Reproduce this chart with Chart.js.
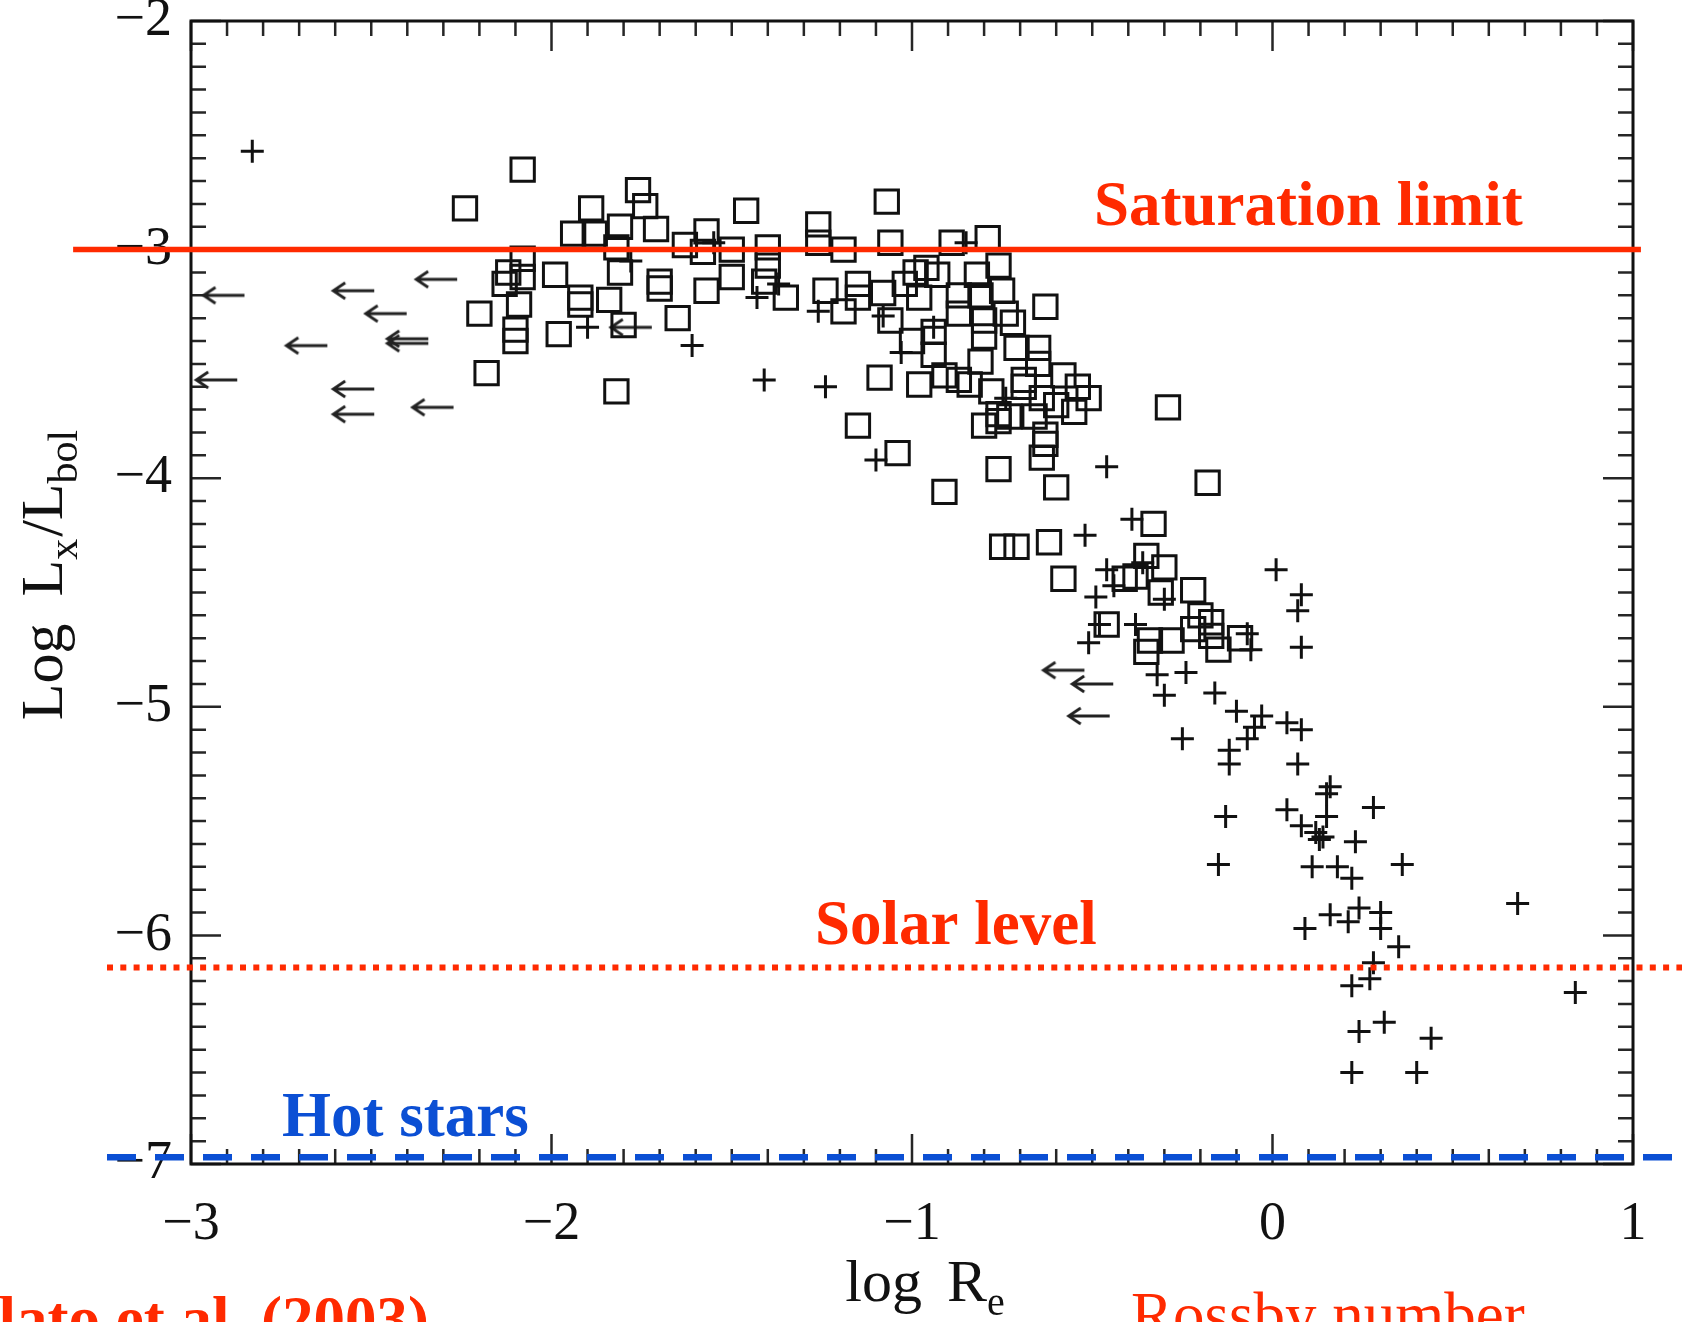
<!DOCTYPE html>
<html lang="en">
<head>
<meta charset="utf-8">
<title>Log Lx/Lbol vs log Ro</title>
<script src="https://cdn.jsdelivr.net/npm/chart.js@4.4.0/dist/chart.umd.min.js"></script>
<style>
  html, body { margin: 0; padding: 0; background: #fff; }
  canvas { display: block; }
</style>
</head>
<body>
<canvas id="rossbyChart" width="1682" height="1322"></canvas>
<script>
// Estrelas com detecção (quadrados): [log Ro, log Lx/Lbol]
const squarePoints = [
    [-2.08,-2.65],[-2.24,-2.82],[-1.89,-2.82],[-1.76,-2.74],[-1.74,-2.81],[-1.94,-2.93],[-1.88,-2.93],
    [-1.81,-2.90],[-1.71,-2.91],[-1.57,-2.92],[-1.82,-2.99],[-1.63,-2.98],[-1.58,-3.01],[-2.08,-3.04],
    [-2.12,-3.10],[-2.08,-3.12],[-2.13,-3.15],[-1.99,-3.11],[-1.81,-3.10],[-1.70,-3.14],[-1.70,-3.17],
    [-1.92,-3.21],[-1.92,-3.24],[-1.84,-3.22],[-2.09,-3.24],[-2.20,-3.28],[-1.80,-3.33],[-1.65,-3.30],
    [-1.98,-3.37],[-2.10,-3.35],[-2.10,-3.40],[-1.57,-3.18],[-1.50,-3.12],[-2.18,-3.54],[-1.82,-3.62],
    [-1.46,-2.83],[-1.07,-2.79],[-1.26,-2.89],[-1.26,-2.97],[-1.19,-3.00],[-1.06,-2.97],[-0.89,-2.97],
    [-0.79,-2.95],[-0.76,-3.07],[-1.50,-3.00],[-1.40,-2.99],[-1.40,-3.07],[-1.41,-3.14],[-1.35,-3.21],
    [-1.24,-3.18],[-1.19,-3.27],[-1.15,-3.15],[-1.15,-3.21],[-1.08,-3.19],[-1.02,-3.15],[-0.99,-3.10],
    [-0.96,-3.08],[-0.98,-3.21],[-0.93,-3.11],[-0.87,-3.20],[-0.82,-3.11],[-0.81,-3.20],[-0.75,-3.18],
    [-0.74,-3.28],[-0.87,-3.28],[-0.80,-3.31],[-0.80,-3.38],[-0.72,-3.32],[-0.94,-3.36],[-1.06,-3.31],
    [-1.00,-3.40],[-0.94,-3.46],[-0.81,-3.49],[-0.71,-3.43],[-1.09,-3.56],[-0.98,-3.59],[-0.91,-3.55],
    [-0.87,-3.57],[-0.84,-3.59],[-0.78,-3.62],[-0.69,-3.60],[-0.76,-3.72],[-0.80,-3.77],[-0.73,-3.73],
    [-0.66,-3.73],[-1.15,-3.77],[-1.04,-3.89],[-0.76,-3.96],[-0.91,-4.06],
    [-0.63,-3.25],[-0.65,-3.43],[-0.65,-3.50],[-0.58,-3.55],[-0.54,-3.60],[-0.51,-3.65],[-0.69,-3.57],
    [-0.64,-3.65],[-0.55,-3.71],[-0.60,-3.68],[-0.76,-3.75],[-0.63,-3.81],[-0.63,-3.85],[-0.64,-3.91],
    [-0.60,-4.04],[-0.29,-3.69],[-0.18,-4.02],
    [-0.75,-4.30],[-0.71,-4.30],[-0.62,-4.28],[-0.58,-4.44],[-0.33,-4.20],[-0.35,-4.34],[-0.30,-4.39],
    [-0.41,-4.44],[-0.38,-4.43],[-0.31,-4.50],[-0.22,-4.49],[-0.46,-4.64],[-0.34,-4.71],[-0.35,-4.76],
    [-0.28,-4.71],[-0.20,-4.60],[-0.17,-4.63],[-0.17,-4.69],[-0.22,-4.66],[-0.15,-4.75],[-0.09,-4.70]
];

// Outras amostras (cruzes)
const plusPoints = [
    [-2.83,-2.57],[-1.90,-3.34],[-1.61,-3.42],[-1.78,-3.05],[-1.55,-2.97],[-1.41,-3.57],[-1.24,-3.60],
    [-1.10,-3.92],[-0.85,-2.97],[-1.26,-3.27],[-1.08,-3.29],[-1.03,-3.45],[-1.43,-3.21],[-1.37,-3.15],
    [-0.94,-3.34],[-0.74,-3.65],[-0.46,-3.95],[-0.52,-4.25],[-0.39,-4.18],[0.01,-4.40],[0.08,-4.51],
    [0.07,-4.58],[0.08,-4.74],[-0.46,-4.40],[-0.49,-4.52],[-0.48,-4.64],[-0.51,-4.72],[-0.38,-4.64],
    [-0.30,-4.53],[-0.07,-4.68],[-0.06,-4.75],[-0.32,-4.86],[-0.30,-4.95],[-0.24,-4.85],[-0.16,-4.94],
    [-0.10,-5.02],[-0.03,-5.04],[-0.05,-5.09],[0.04,-5.07],[0.08,-5.10],[-0.25,-5.14],[-0.07,-5.14],
    [-0.12,-5.19],[-0.12,-5.25],[0.07,-5.25],[0.16,-5.35],[0.15,-5.38],[0.15,-5.48],[0.28,-5.44],
    [0.04,-5.45],[0.08,-5.52],[0.12,-5.55],[0.14,-5.57],[0.13,-5.58],[0.23,-5.59],[-0.13,-5.48],
    [-0.15,-5.69],[0.11,-5.70],[0.18,-5.70],[0.22,-5.75],[0.36,-5.69],[0.16,-5.91],[0.24,-5.88],
    [0.21,-5.94],[0.30,-5.90],[0.30,-5.97],[0.09,-5.97],[0.35,-6.05],[0.28,-6.12],[0.27,-6.19],
    [0.22,-6.22],[0.31,-6.38],[0.24,-6.42],[0.44,-6.45],[0.22,-6.60],[0.40,-6.60],[0.68,-5.86],
    [0.84,-6.25],[-0.44,-4.47],[-0.36,-4.37]
];

// Limites superiores (setas)
const upperLimits = [
    [-2.91,-3.20],[-2.55,-3.18],[-2.46,-3.28],[-2.40,-3.39],[-2.40,-3.41],[-2.68,-3.42],[-2.32,-3.13],
    [-2.93,-3.57],[-2.55,-3.61],[-2.55,-3.72],[-2.33,-3.69],[-1.78,-3.34],[-0.58,-4.84],[-0.50,-4.90],
    [-0.51,-5.04]
];

// Marcas dos eixos
const xTicks = [-3, -2, -1, 0, 1];
const yTicks = [-7, -6, -5, -4, -3, -2];

// Níveis de referência
const saturationLevel = -3;
const solarLevel = -6.14;
const hotStarsLevel = -6.97;

const RED = '#ff2a00';
const BLUE = '#0b4fd4';
const SERIF = '"Liberation Serif", "Times New Roman", serif';

Chart.defaults.font.family = SERIF;
Chart.defaults.color = '#111';

const toXY = pts => pts.map(p => ({ x: p[0], y: p[1] }));
const minusLabel = v => (v < 0 ? '\u2212' + Math.abs(v) : String(v));

// Seta apontando para a esquerda
function makeArrow() {
    const c = document.createElement('canvas');
    c.width = 46;
    c.height = 24;
    const g = c.getContext('2d');
    g.strokeStyle = '#222';
    g.lineWidth = 2.8;
    g.beginPath();
    g.moveTo(3, 12);
    g.lineTo(44, 12);
    g.moveTo(15, 4);
    g.lineTo(3, 12);
    g.lineTo(15, 20);
    g.stroke();
    return c;
}

// Moldura com marcas menores para dentro
const frameTicks = {
    id: 'frameTicks',
    beforeDatasetsDraw(chart) {
        const { ctx, chartArea: a, scales: { x, y } } = chart;
        ctx.save();
        ctx.strokeStyle = '#262626';
        ctx.lineWidth = 2.5;
        ctx.beginPath();
        for (let i = -30; i <= 10; i++) {
            const px = x.getPixelForValue(i / 10);
            const len = i % 10 === 0 ? 30 : 15;
            ctx.moveTo(px, a.bottom);
            ctx.lineTo(px, a.bottom - len);
            ctx.moveTo(px, a.top);
            ctx.lineTo(px, a.top + len);
        }
        for (let i = -70; i <= -20; i++) {
            const py = y.getPixelForValue(i / 10);
            const len = i % 10 === 0 ? 30 : 15;
            ctx.moveTo(a.left, py);
            ctx.lineTo(a.left + len, py);
            ctx.moveTo(a.right, py);
            ctx.lineTo(a.right - len, py);
        }
        ctx.stroke();
        ctx.strokeStyle = '#111';
        ctx.lineWidth = 3;
        ctx.strokeRect(a.left, a.top, a.right - a.left, a.bottom - a.top);
        ctx.restore();
    }
};

// Escreve partes de texto com subscrito
function drawParts(ctx, parts, cx, baseY) {
    let total = 0;
    parts.forEach(p => {
        ctx.font = p.size + 'px ' + SERIF;
        p.w = ctx.measureText(p.t).width + (p.gap || 0);
        total += p.w;
    });
    let px = cx - total / 2;
    parts.forEach(p => {
        ctx.font = p.size + 'px ' + SERIF;
        ctx.fillText(p.t, px, baseY + (p.sub ? p.size * 0.35 : 0));
        px += p.w;
    });
}

// Títulos e anotações
const annotations = {
    id: 'annotations',
    afterDraw(chart) {
        const { ctx } = chart;
        ctx.save();
        ctx.textAlign = 'left';
        ctx.textBaseline = 'alphabetic';

        ctx.fillStyle = RED;
        ctx.font = 'bold 63px ' + SERIF;
        ctx.fillText('Saturation limit', 1094, 225);
        ctx.fillText('Solar level', 815, 944);
        ctx.textAlign = 'right';
        ctx.fillText('Pizzolato et al. (2003)', 429, 1340);
        ctx.textAlign = 'left';
        ctx.font = '63px ' + SERIF;
        ctx.fillText('Rossby number', 1131, 1336);

        ctx.fillStyle = BLUE;
        ctx.font = 'bold 63px ' + SERIF;
        ctx.fillText('Hot stars', 282, 1136);

        ctx.fillStyle = '#111';
        drawParts(ctx, [
            { t: 'log ', size: 60, gap: 10 },
            { t: 'R', size: 60 },
            { t: 'e', size: 40, sub: true }
        ], 925, 1301);

        ctx.translate(62, 575);
        ctx.rotate(-Math.PI / 2);
        drawParts(ctx, [
            { t: 'Log ', size: 60, gap: 12 },
            { t: 'L', size: 60 },
            { t: 'x', size: 42, sub: true, gap: 2 },
            { t: '/', size: 60 },
            { t: 'L', size: 60 },
            { t: 'bol', size: 42, sub: true }
        ], 0, 0);
        ctx.restore();
    }
};

const refLine = (level, color, width, dash, x0) => ({
    type: 'line',
    data: [{ x: x0, y: level }, { x: 1.2, y: level }],
    borderColor: color,
    borderWidth: width,
    borderDash: dash,
    borderCapStyle: 'butt',
    pointRadius: 0,
    clip: false
});

const satLine = refLine(saturationLevel, RED, 5.5, [], -3.327);
satLine.data[1].x = 1.022;

const ctx = document.getElementById('rossbyChart').getContext('2d');
new Chart(ctx, {
    type: 'scatter',
    data: {
        datasets: [
            satLine,
            refLine(solarLevel, RED, 6, [6, 7.3], -3.233),
            refLine(hotStarsLevel, BLUE, 6.5, [29, 19], -3.233),
            {
                data: toXY(squarePoints),
                pointStyle: 'rect',
                pointRadius: 16.5,
                borderColor: '#111',
                backgroundColor: 'rgba(0,0,0,0)',
                borderWidth: 3
            },
            {
                data: toXY(plusPoints),
                pointStyle: 'cross',
                pointRadius: 11.5,
                borderColor: '#111',
                borderWidth: 3
            },
            {
                data: toXY(upperLimits),
                pointStyle: makeArrow(),
                pointRadius: 20
            }
        ]
    },
    options: {
        responsive: false,
        animation: false,
        events: [],
        layout: { padding: { top: 14, right: 49, bottom: 58, left: 0 } },
        plugins: {
            legend: { display: false },
            tooltip: { enabled: false }
        },
        scales: {
            x: {
                type: 'linear',
                min: -3,
                max: 1,
                afterBuildTicks: axis => { axis.ticks = xTicks.map(v => ({ value: v })); },
                afterFit: axis => { axis.height = 100; axis.paddingLeft = 0; axis.paddingRight = 0; },
                grid: { display: false, drawTicks: false },
                border: { display: false },
                ticks: { font: { size: 54 }, padding: 28, maxRotation: 0, callback: minusLabel }
            },
            y: {
                type: 'linear',
                min: -7,
                max: -2,
                afterBuildTicks: axis => { axis.ticks = yTicks.map(v => ({ value: v })); },
                afterFit: axis => { axis.width = 191; axis.paddingTop = 0; axis.paddingBottom = 0; },
                grid: { display: false, drawTicks: false },
                border: { display: false },
                ticks: { font: { size: 54 }, padding: 19, callback: minusLabel }
            }
        }
    },
    plugins: [frameTicks, annotations]
});
</script>
</body>
</html>
